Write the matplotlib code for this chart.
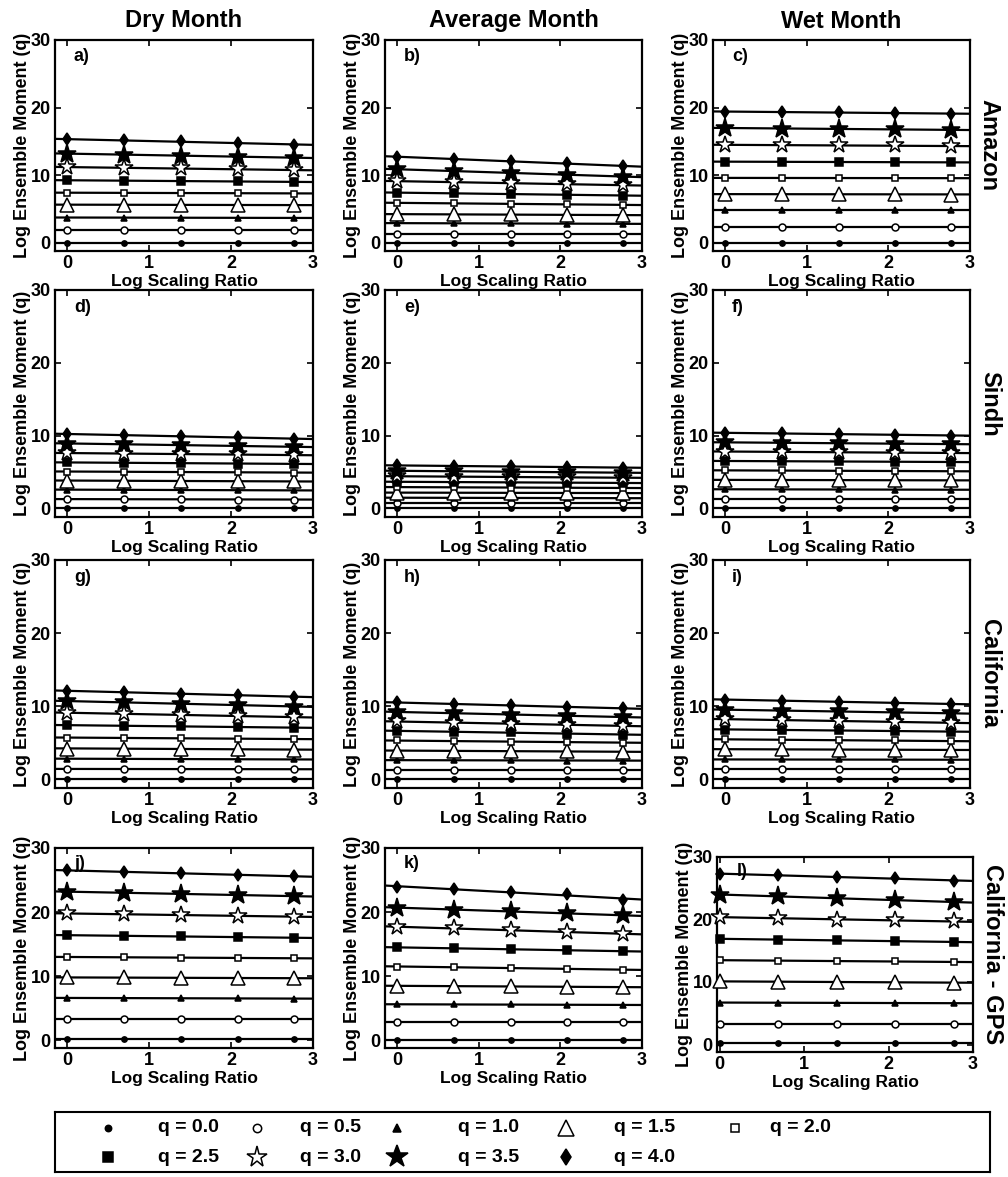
import numpy as np
import matplotlib
matplotlib.use('Agg')
import matplotlib.pyplot as plt

plt.rcParams['font.family'] = ['Liberation Sans', 'DejaVu Sans']
plt.rcParams['font.weight'] = 'bold'
plt.rcParams['axes.labelweight'] = 'bold'
plt.rcParams['axes.titleweight'] = 'bold'

# log of scaling ratio (1, 2, 4, 8, 16)
x_ratio = [0.0, 0.69, 1.39, 2.08, 2.77]
q_values = [0.0, 0.5, 1.0, 1.5, 2.0, 2.5, 3.0, 3.5, 4.0]

col_titles = ['Dry Month', 'Average Month', 'Wet Month']
row_titles = ['Amazon', 'Sindh', 'California', 'California - GPS']
panel_tags = ['a)', 'b)', 'c)', 'd)', 'e)', 'f)', 'g)', 'h)', 'i)', 'j)', 'k)', 'l)']

# log ensemble moment, one row per q, one column per scaling ratio
amazon_dry = [
    [0, 0, 0, 0, 0],
    [1.9, 1.9, 1.9, 1.9, 1.9],
    [3.75, 3.75, 3.7, 3.7, 3.7],
    [5.65, 5.65, 5.6, 5.6, 5.6],
    [7.4, 7.4, 7.4, 7.35, 7.3],
    [9.25, 9.2, 9.15, 9.1, 9.0],
    [11.2, 11.1, 11.0, 10.9, 10.75],
    [13.2, 13.05, 12.9, 12.75, 12.6],
    [15.3, 15.15, 15.0, 14.8, 14.5],
]
amazon_avg = [
    [0, 0, 0, 0, 0],
    [1.35, 1.35, 1.35, 1.35, 1.35],
    [2.9, 2.9, 2.9, 2.85, 2.8],
    [4.25, 4.2, 4.2, 4.15, 4.1],
    [5.9, 5.85, 5.8, 5.7, 5.6],
    [7.4, 7.35, 7.25, 7.1, 7.0],
    [9.1, 9.0, 8.85, 8.7, 8.5],
    [10.9, 10.6, 10.35, 10.1, 9.8],
    [12.7, 12.4, 12.1, 11.8, 11.3],
]
amazon_wet = [
    [0, 0, 0, 0, 0],
    [2.4, 2.4, 2.4, 2.4, 2.4],
    [4.8, 4.8, 4.8, 4.8, 4.8],
    [7.2, 7.2, 7.2, 7.2, 7.15],
    [9.6, 9.6, 9.6, 9.6, 9.55],
    [12.0, 12.0, 11.95, 11.95, 11.9],
    [14.5, 14.45, 14.4, 14.4, 14.3],
    [17.0, 16.9, 16.85, 16.8, 16.7],
    [19.4, 19.35, 19.3, 19.2, 19.1],
]
sindh_dry = [
    [0, 0, 0, 0, 0],
    [1.25, 1.25, 1.25, 1.2, 1.2],
    [2.55, 2.55, 2.5, 2.5, 2.45],
    [3.8, 3.8, 3.75, 3.7, 3.7],
    [5.05, 5.0, 5.0, 4.95, 4.9],
    [6.3, 6.25, 6.2, 6.15, 6.1],
    [7.6, 7.5, 7.45, 7.4, 7.3],
    [8.9, 8.8, 8.7, 8.55, 8.45],
    [10.2, 10.05, 9.9, 9.75, 9.55],
]
sindh_avg = [
    [0, 0, 0, 0, 0],
    [0.7, 0.7, 0.7, 0.7, 0.7],
    [1.45, 1.45, 1.4, 1.4, 1.4],
    [2.15, 2.15, 2.1, 2.1, 2.1],
    [2.9, 2.9, 2.85, 2.8, 2.8],
    [3.65, 3.6, 3.55, 3.5, 3.5],
    [4.4, 4.35, 4.3, 4.25, 4.2],
    [5.15, 5.1, 5.0, 4.95, 4.9],
    [5.9, 5.8, 5.75, 5.65, 5.6],
]
sindh_wet = [
    [0, 0, 0, 0, 0],
    [1.3, 1.3, 1.3, 1.3, 1.3],
    [2.6, 2.6, 2.6, 2.55, 2.55],
    [3.9, 3.9, 3.85, 3.85, 3.85],
    [5.2, 5.2, 5.15, 5.1, 5.1],
    [6.5, 6.45, 6.45, 6.4, 6.35],
    [7.8, 7.75, 7.7, 7.65, 7.6],
    [9.05, 9.0, 8.95, 8.9, 8.8],
    [10.35, 10.3, 10.2, 10.1, 10.0],
]
calif_dry = [
    [0, 0, 0, 0, 0],
    [1.4, 1.4, 1.4, 1.4, 1.35],
    [2.8, 2.8, 2.75, 2.75, 2.7],
    [4.2, 4.2, 4.15, 4.1, 4.05],
    [5.7, 5.65, 5.6, 5.55, 5.5],
    [7.4, 7.3, 7.25, 7.15, 7.05],
    [9.1, 8.95, 8.8, 8.65, 8.5],
    [10.7, 10.5, 10.35, 10.15, 9.95],
    [12.1, 11.9, 11.7, 11.5, 11.3],
]
calif_avg = [
    [0, 0, 0, 0, 0],
    [1.3, 1.3, 1.3, 1.3, 1.3],
    [2.6, 2.6, 2.6, 2.55, 2.55],
    [3.9, 3.9, 3.85, 3.8, 3.75],
    [5.3, 5.2, 5.15, 5.1, 5.0],
    [6.6, 6.5, 6.4, 6.25, 6.1],
    [7.9, 7.75, 7.6, 7.45, 7.3],
    [9.2, 9.05, 8.85, 8.7, 8.5],
    [10.5, 10.3, 10.1, 9.9, 9.7],
]
calif_wet = [
    [0, 0, 0, 0, 0],
    [1.35, 1.35, 1.35, 1.35, 1.35],
    [2.7, 2.7, 2.7, 2.7, 2.65],
    [4.1, 4.1, 4.05, 4.05, 4.0],
    [5.45, 5.4, 5.35, 5.3, 5.2],
    [6.8, 6.75, 6.7, 6.6, 6.5],
    [8.2, 8.1, 8.0, 7.85, 7.7],
    [9.5, 9.4, 9.3, 9.15, 9.0],
    [10.9, 10.75, 10.6, 10.45, 10.3],
]
gps_dry = [
    [0.2, 0.2, 0.2, 0.2, 0.2],
    [3.3, 3.3, 3.3, 3.3, 3.3],
    [6.6, 6.6, 6.55, 6.55, 6.5],
    [9.8, 9.8, 9.75, 9.7, 9.7],
    [13.0, 12.95, 12.9, 12.85, 12.8],
    [16.4, 16.3, 16.2, 16.1, 16.0],
    [19.8, 19.65, 19.55, 19.4, 19.3],
    [23.2, 23.0, 22.85, 22.65, 22.5],
    [26.5, 26.3, 26.05, 25.8, 25.6],
]
gps_avg = [
    [0.1, 0.1, 0.1, 0.1, 0.1],
    [2.9, 2.9, 2.9, 2.9, 2.9],
    [5.6, 5.6, 5.6, 5.55, 5.5],
    [8.5, 8.45, 8.4, 8.35, 8.3],
    [11.5, 11.4, 11.3, 11.15, 11.0],
    [14.5, 14.35, 14.2, 14.05, 13.9],
    [17.7, 17.45, 17.2, 16.9, 16.6],
    [20.7, 20.4, 20.1, 19.8, 19.5],
    [23.9, 23.6, 23.2, 22.8, 21.9],
]
gps_wet = [
    [0.3, 0.3, 0.3, 0.3, 0.3],
    [3.35, 3.35, 3.35, 3.35, 3.35],
    [6.7, 6.7, 6.65, 6.65, 6.6],
    [10.1, 10.05, 10.0, 9.95, 9.9],
    [13.5, 13.4, 13.35, 13.3, 13.2],
    [16.9, 16.8, 16.65, 16.55, 16.4],
    [20.4, 20.2, 20.0, 19.85, 19.7],
    [24.0, 23.7, 23.4, 23.1, 22.8],
    [27.3, 27.1, 26.8, 26.6, 26.2],
]

panels = [amazon_dry, amazon_avg, amazon_wet,
          sindh_dry, sindh_avg, sindh_wet,
          calif_dry, calif_avg, calif_wet,
          gps_dry, gps_avg, gps_wet]

# marker, size, filled
marker_styles = [('o', 3.8, True), ('o', 5, False), ('^', 5, True),
                 ('^', 9.5, False), ('s', 5, False), ('s', 5.8, True),
                 ('*', 13, False), ('*', 14, True), ('d', 6.5, True)]

W, H = 1008, 1177
col_px = [(55, 313), (385, 642), (713, 970)]
row_px = [(40, 251), (290, 517), (560, 788), (848, 1048)]

fig = plt.figure(figsize=(W / 100, H / 100), dpi=100)

for i, data in enumerate(panels):
    r, c = divmod(i, 3)
    l, rt = col_px[c]
    t, b = row_px[r]
    x0 = -0.15
    if i == 11:
        # last panel was exported a bit smaller and without the left margin
        l, rt, t, b = 717, 973, 857, 1052
        x0 = -0.03
    ax = fig.add_axes([l / W, 1 - b / H, (rt - l) / W, (b - t) / H])
    xs = np.array(x_ratio)
    xfit = np.array([x0, 3.0])
    for k, row in enumerate(data):
        ys = np.array(row)
        p = np.polyfit(xs, ys, 1)
        ax.plot(xfit, np.polyval(p, xfit), color='k', lw=1.6, zorder=2)
        m, ms, filled = marker_styles[k]
        ax.plot(xs, ys, ls='none', marker=m, ms=ms, mec='k', mew=1.1,
                mfc='k' if filled else 'white', zorder=3, clip_on=False)
    ax.set_xlim(x0, 3.0)
    ax.set_ylim(-1.2, 30)
    ax.set_xticks([0, 1, 2, 3])
    ax.set_yticks([0, 10, 20, 30])
    ax.tick_params(direction='in', top=True, right=True, length=4, width=1.2,
                   labelsize=13, pad=3)
    for s in ax.spines.values():
        s.set_linewidth(1.6)
    ax.set_xlabel('Log Scaling Ratio', fontsize=12.5, labelpad=1)
    ax.set_ylabel('Log Ensemble Moment (q)', fontsize=13, labelpad=0)
    ax.text(x0 + 0.23, 27.6, panel_tags[i], fontsize=13, va='center', ha='left')
    if r == 0:
        ax.set_title(col_titles[c], fontsize=17, pad=9)
    if c == 2:
        ax.text(1.075, 0.5, row_titles[r], transform=ax.transAxes, rotation=-90,
                fontsize=17, ha='center', va='center')

# shared legend along the bottom, laid out in its own frame
box_l, box_r, box_t, box_b = 55, 990, 1112, 1172
lax = fig.add_axes([box_l / W, 1 - box_b / H, (box_r - box_l) / W, (box_b - box_t) / H])
lax.set_xlim(box_l, box_r)
lax.set_ylim(box_b, box_t)
lax.set_xticks([])
lax.set_yticks([])
for s in lax.spines.values():
    s.set_linewidth(1.5)
marker_x = [108, 257, 397, 566, 735]
label_x = [158, 300, 458, 614, 770]
entry_y = [1128, 1157]
for k, q in enumerate(q_values):
    rr, cc = divmod(k, 5)
    m, ms, filled = marker_styles[k]
    lax.plot(marker_x[cc], entry_y[rr], ls='none', marker=m, ms=ms * 1.2, mec='k',
             mew=1.1, mfc='k' if filled else 'white')
    lax.text(label_x[cc], entry_y[rr], 'q = %.1f' % q, fontsize=14,
             va='center', ha='left')

fig.savefig('out.png', dpi=100)
